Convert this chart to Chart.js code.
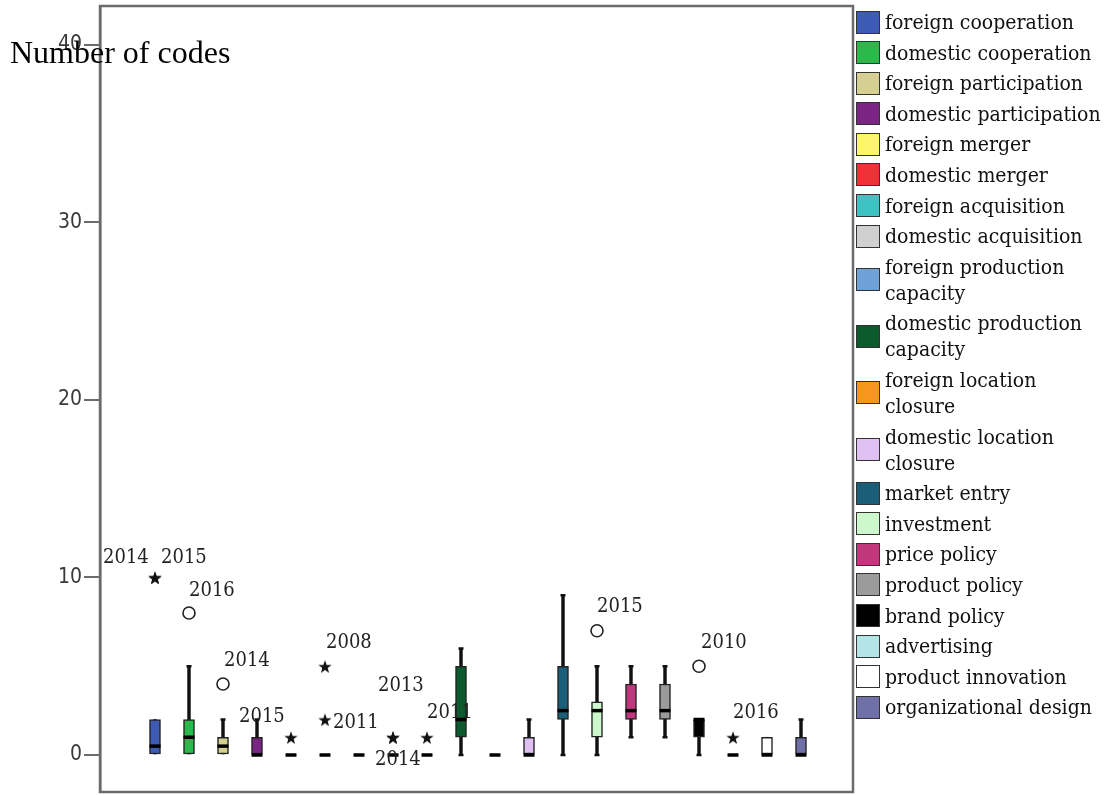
<!DOCTYPE html>
<html>
<head>
<meta charset="utf-8">
<script src="https://cdn.jsdelivr.net/npm/chart.js@4/dist/chart.umd.min.js"></script>
<style>
  body { margin: 0; background: #fff; }
  #wrap { position: relative; width: 1106px; height: 795px; background: #fff; }
  #ytitle { position: absolute; left: 10px; top: 36px; font: 32px "Liberation Serif", "Times New Roman", serif; line-height: 32px; color: #000; white-space: nowrap; }
  #legend { position: absolute; left: 856px; top: 9px; font-family: "DejaVu Serif Condensed", "DejaVu Serif", serif; font-stretch: condensed; font-size: 21px; line-height: 26px; color: #111; white-space: nowrap; }
  .item { display: flex; align-items: center; margin-bottom: 4.6px; }
  .sw { width: 24px; height: 23px; box-sizing: border-box; border: 1.5px solid #333; margin-right: 5px; flex: none; }
</style>
</head>
<body>
<div id="wrap">
  <canvas id="chart" width="1106" height="795"></canvas>
  <div id="ytitle">Number of codes</div>
  <div id="legend"></div>
</div>
<script>
// Categories and box statistics
const categories = [
  'foreign cooperation', 'domestic cooperation', 'foreign participation', 'domestic participation',
  'foreign merger', 'domestic merger', 'foreign acquisition', 'domestic acquisition',
  'foreign production capacity', 'domestic production capacity', 'foreign location closure',
  'domestic location closure', 'market entry', 'investment', 'price policy', 'product policy',
  'brand policy', 'advertising', 'product innovation', 'organizational design'
];
const whiskerLow  = [0, 0, 0, 0, 0, 0, 0, 0, 0, 0, 0, 0, 0,   0,   1,   1,   0, 0, 0, 0];
const q1          = [0, 0, 0, 0, 0, 0, 0, 0, 0, 1, 0, 0, 2,   1,   2,   2,   1, 0, 0, 0];
const medians     = [0.5, 1, 0.5, 0, 0, 0, 0, 0, 0, 2, 0, 0, 2.5, 2.5, 2.5, 2.5, 2, 0, 0, 0];
const q3          = [2, 2, 1, 1, 0, 0, 0, 0, 0, 5, 0, 1, 5,   3,   4,   4,   2, 0, 1, 1];
const whiskerHigh = [2, 5, 2, 2, 0, 0, 0, 0, 0, 6, 0, 2, 9,   5,   5,   5,   2, 0, 1, 2];

// Outliers: category index, value, marker kind, year label
const outlierCat  = [0, 0, 1, 2, 3, 4, 5, 5, 7, 7, 8, 13, 16, 17];
const outlierVal  = [10, 10, 8, 4, 2, 1, 5, 2, 1, 1, 1, 7, 5, 1];
const outlierKind = ['star', 'star', 'circle', 'circle', 'none', 'star', 'star', 'star', 'star', 'star', 'star', 'circle', 'circle', 'star'];
const outlierYear = ['2014', '2015', '2016', '2014', '2015', '', '2008', '2011', '2013', '2014', '2011', '2015', '2010', '2016'];

const yTicks = [0, 10, 20, 30, 40];

// styles
const boxColors = [
  '#3d5ab5', '#2db84b', '#d6cf92', '#7a2483', '#fbf56c', '#ee3237', '#3ec3c3', '#d0d0d0',
  '#6ea2d6', '#0c5a2e', '#f7961f', '#dec0f3', '#1b5e77', '#cdf8cd', '#c0377e', '#9b9b9b',
  '#000000', '#b3e5e7', '#ffffff', '#6f70a8'
];
const labelShift = [[-52, -20], [6, -20], [0, -22], [1, -23], [-18, -3], [0, 0], [1, -23], [8, 3],
  [-15, -51], [-18, 23], [0, -24], [0, -24], [2, -23], [0, -24]];
const legendWrap = [8, 9, 10, 11];

// Legend
const legend = document.getElementById('legend');
legend.innerHTML = categories.map((name, i) => {
  let text = name;
  if (legendWrap.includes(i)) {
    const k = name.lastIndexOf(' ');
    text = name.slice(0, k) + '<br>' + name.slice(k + 1);
  }
  return `<div class="item"><div class="sw" style="background:${boxColors[i]}"></div><div>${text}</div></div>`;
}).join('');

// five point star for extreme values
function makeStar(size) {
  const c = document.createElement('canvas');
  c.width = c.height = size;
  const g = c.getContext('2d');
  g.beginPath();
  for (let k = 0; k < 10; k++) {
    const r = k % 2 === 0 ? size / 2 : size / 5;
    const a = -Math.PI / 2 + k * Math.PI / 5;
    g.lineTo(size / 2 + r * Math.cos(a), size / 2 + 1 + r * Math.sin(a));
  }
  g.closePath();
  g.fillStyle = '#111';
  g.fill();
  return c;
}
const starImg = makeStar(14);

const idx = categories.map((c, i) => i);

const whiskerData = idx.filter(i => whiskerHigh[i] > whiskerLow[i])
  .map(i => ({ x: i, y: [whiskerLow[i], whiskerHigh[i]] }));
const boxData = idx.filter(i => q3[i] > q1[i])
  .map(i => ({ x: i, y: [q1[i], q3[i]] }));
const capData = [];
idx.forEach(i => {
  if (whiskerHigh[i] > q3[i]) capData.push({ x: i, y: whiskerHigh[i] });
  if (whiskerLow[i] < q1[i]) capData.push({ x: i, y: whiskerLow[i] });
});
const medianData = idx.map(i => ({ x: i, y: medians[i] }));
const circleData = [];
const starData = [];
outlierCat.forEach((c, k) => {
  if (outlierKind[k] === 'circle') circleData.push({ x: c, y: outlierVal[k] });
  if (outlierKind[k] === 'star') starData.push({ x: c, y: outlierVal[k] });
});

// plot frame
const framePlugin = {
  id: 'frame',
  beforeDatasetsDraw(chart) {
    const a = chart.chartArea, g = chart.ctx;
    g.save();
    g.strokeStyle = '#6b6b6b';
    g.lineWidth = 2.5;
    g.strokeRect(a.left, a.top, a.right - a.left, a.bottom - a.top);
    g.restore();
  }
};

// year labels next to outliers
const yearPlugin = {
  id: 'years',
  afterDatasetsDraw(chart) {
    const xs = chart.scales.x, ys = chart.scales.y, g = chart.ctx;
    g.save();
    g.font = '20px "DejaVu Serif Condensed", "DejaVu Serif", serif';
    if ('fontStretch' in g) g.fontStretch = 'condensed';
    g.fillStyle = '#222';
    g.textAlign = 'left';
    g.textBaseline = 'middle';
    outlierCat.forEach((c, k) => {
      if (!outlierYear[k]) return;
      const px = xs.getPixelForValue(c) + labelShift[k][0];
      const py = ys.getPixelForValue(outlierVal[k]) + labelShift[k][1];
      g.fillText(outlierYear[k], px, py);
    });
    g.restore();
  }
};

new Chart(document.getElementById('chart'), {
  type: 'bar',
  data: {
    datasets: [
      { type: 'bar', label: 'whiskers', data: whiskerData, grouped: false, order: 5,
        barThickness: 2.8, backgroundColor: '#111', borderWidth: 0 },
      { type: 'bar', label: 'boxes', data: boxData, grouped: false, order: 4,
        barThickness: 11, backgroundColor: c => boxColors[c.raw ? c.raw.x : 0],
        borderColor: '#222', borderWidth: 1.5, borderSkipped: false },
      { type: 'scatter', label: 'caps', data: capData, order: 3,
        pointStyle: 'line', radius: 2.5, borderWidth: 2.5, borderColor: '#111' },
      { type: 'scatter', label: 'medians', data: medianData, order: 2,
        pointStyle: 'line', radius: 5.5, borderWidth: 3.5, borderColor: '#000' },
      { type: 'scatter', label: 'outliers', data: circleData, order: 1,
        pointStyle: 'circle', radius: 6, borderWidth: 1.6, borderColor: '#222', backgroundColor: '#fff' },
      { type: 'scatter', label: 'extremes', data: starData, order: 0,
        pointStyle: starImg, radius: 7 }
    ]
  },
  options: {
    responsive: false,
    animation: false,
    events: [],
    layout: { autoPadding: false, padding: { top: 6, bottom: 3, left: 0, right: 253 } },
    plugins: { legend: { display: false }, tooltip: { enabled: false } },
    scales: {
      x: { type: 'linear', display: false, offset: false, min: -1.6176, max: 20.5294 },
      y: {
        type: 'linear',
        min: -2.0845,
        max: 42.197,
        afterBuildTicks: s => { s.ticks = yTicks.map(v => ({ value: v })); },
        afterFit: s => { s.width = 100; s.paddingTop = 0; s.paddingBottom = 0; },
        grid: { drawOnChartArea: false, drawTicks: true, tickLength: 16, color: '#6b6b6b', lineWidth: 2 },
        border: { display: true, color: '#6b6b6b', width: 2.5 },
        ticks: {
          padding: 2,
          color: '#3a3a3a',
          font: { family: '"Liberation Sans Narrow", "DejaVu Sans Condensed", sans-serif', size: 21 }
        }
      }
    }
  },
  plugins: [framePlugin, yearPlugin]
});
</script>
</body>
</html>
